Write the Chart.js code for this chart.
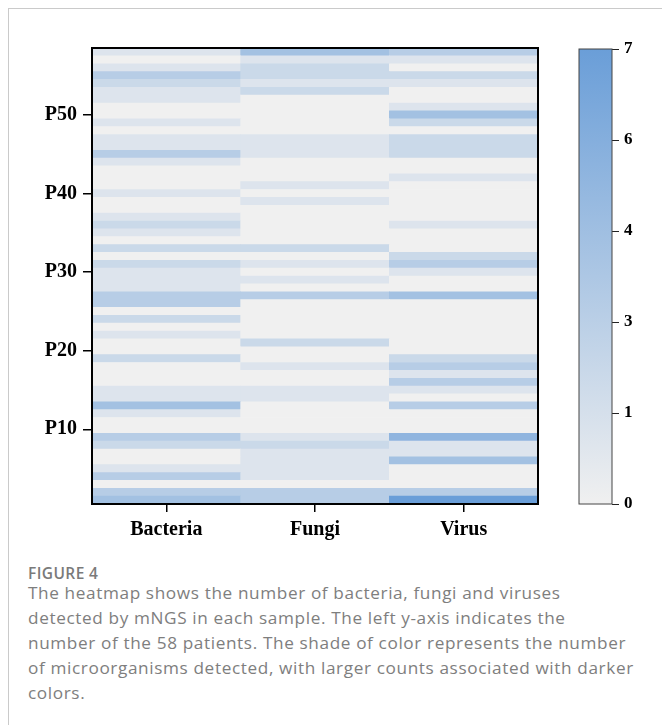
<!DOCTYPE html>
<html>
<head>
<meta charset="utf-8">
<script src="https://cdn.jsdelivr.net/npm/chart.js@4"></script>
<style>
  body { margin: 0; background: #fff; width: 662px; height: 725px; overflow: hidden; position: relative; }
  .card { position: absolute; left: 8px; top: 8px; width: 700px; height: 760px;
          border-left: 1px solid #cacaca; border-top: 1px solid #cacaca; }
  #heat { position: absolute; left: 0; top: 0; }
  #bar { position: absolute; left: 540px; top: 0; }
  .fig { position: absolute; left: 28px; top: 562px; font-family: "Open Sans", sans-serif;
         font-size: 15.5px; font-weight: 600; letter-spacing: 0.4px; color: #7a7a7a; }
  .caption { position: absolute; left: 28px; top: 580px; width: 640px; white-space: nowrap;
             font-family: "Open Sans", sans-serif; font-size: 17.2px; letter-spacing: 0.62px;
             line-height: 25px; color: #7e7e7e; }
</style>
</head>
<body>
<div class="card"></div>
<canvas id="heat" width="570" height="550"></canvas>
<canvas id="bar" width="122" height="550"></canvas>
<div class="fig">FIGURE 4</div>
<div class="caption">The heatmap shows the number of bacteria, fungi and viruses<br>detected by mNGS in each sample. The left y-axis indicates the<br>number of the 58 patients. The shade of color represents the number<br>of microorganisms detected, with larger counts associated with darker<br>colors.</div>
<script>
// Dati: conteggi per paziente P1..P58 (indice 0 = P1)
const categories = ['Bacteria', 'Fungi', 'Virus'];
const bacteria = [4, 3, 0, 3, 1, 0, 0, 2, 3, 0,
                  0, 1, 4, 1, 1, 0, 0, 0, 2, 0,
                  0, 1, 0, 2, 0, 3, 3, 1, 1, 1,
                  2, 0, 2, 0, 1, 2, 1, 0, 0, 1,
                  0, 0, 0, 1, 3, 1, 1, 0, 1, 0,
                  0, 1, 1, 2, 3, 1, 0, 1];
const fungi = [3, 3, 0, 1, 1, 1, 1, 2, 1, 0,
               0, 0, 0, 1, 1, 0, 0, 1, 0, 0,
               2, 0, 0, 0, 0, 0, 3, 0, 1, 0,
               1, 0, 2, 0, 0, 0, 0, 0, 1, 0,
               1, 0, 0, 0, 1, 1, 1, 0, 0, 0,
               0, 0, 2, 1, 2, 2, 1, 4];
const virus = [7, 3, 0, 0, 0, 4, 1, 1, 5, 0,
               0, 0, 3, 0, 1, 3, 1, 3, 2, 0,
               0, 0, 0, 0, 0, 0, 4, 0, 0, 1,
               3, 2, 0, 0, 0, 1, 0, 0, 0, 0,
               0, 1, 0, 0, 2, 2, 2, 0, 2, 4,
               1, 0, 0, 1, 2, 0, 1, 3];
const patientTicks = [10, 20, 30, 40, 50];
const colorbarTicks = [0, 1.4, 2.8, 4.2, 5.6, 7];
const colorbarLabels = ['0', '1', '3', '4', '6', '7'];

const maxCount = 7;
const lowRgb = [240, 240, 240];
const highRgb = [106, 158, 216];

function shade(v) {
    const t = v / maxCount;
    const c = lowRgb.map((lo, i) => Math.round(lo + (highRgb[i] - lo) * t));
    return `rgb(${c[0]}, ${c[1]}, ${c[2]})`;
}

const serifBold = (size) => ({ family: '"Liberation Serif", "Times New Roman", serif', size: size, weight: 'bold' });

// Cornice attorno all'area del grafico
const framePlugin = {
    id: 'frame',
    afterDatasetsDraw(chart, args, opts) {
        const a = chart.chartArea;
        const ctx = chart.ctx;
        ctx.save();
        ctx.strokeStyle = opts.color || '#000';
        ctx.lineWidth = opts.width || 2;
        ctx.strokeRect(a.left, a.top, a.right - a.left, a.bottom - a.top);
        ctx.restore();
    }
};

// Un dataset per paziente: barre flottanti [p-0.5, p+0.5] su ogni categoria
const datasets = bacteria.map((b, i) => {
    const p = i + 1;
    return {
        label: 'P' + p,
        data: categories.map(() => [p - 0.5, p + 0.5]),
        backgroundColor: [shade(bacteria[i]), shade(fungi[i]), shade(virus[i])],
        borderWidth: 0,
        grouped: false,
        categoryPercentage: 1,
        barPercentage: 1
    };
});

new Chart(document.getElementById('heat'), {
    type: 'bar',
    data: { labels: categories, datasets: datasets },
    plugins: [framePlugin],
    options: {
        responsive: false,
        animation: false,
        layout: { padding: { left: 0, top: 48, right: 32, bottom: 0 } },
        plugins: {
            legend: { display: false },
            tooltip: { enabled: false },
            frame: { color: '#000', width: 2 }
        },
        scales: {
            x: {
                grid: { offset: false, drawOnChartArea: false, tickLength: 8, color: '#000', lineWidth: 1.5 },
                border: { display: false },
                ticks: { color: '#000', font: serifBold(20), padding: 6 },
                afterFit: (scale) => { scale.height = 46; }
            },
            y: {
                min: 0.5,
                max: 58.5,
                grid: { drawOnChartArea: false, tickLength: 9, color: '#000', lineWidth: 1.5 },
                border: { display: false },
                afterBuildTicks: (scale) => { scale.ticks = patientTicks.map(v => ({ value: v })); },
                ticks: { color: '#000', font: serifBold(20), padding: 6, callback: (v) => 'P' + v },
                afterFit: (scale) => { scale.width = 92; }
            }
        }
    }
});

// Barra dei colori
new Chart(document.getElementById('bar'), {
    type: 'bar',
    data: {
        labels: [''],
        datasets: [{
            data: [[0, maxCount]],
            backgroundColor: (c) => {
                const area = c.chart.chartArea;
                if (!area) return shade(maxCount);
                const g = c.chart.ctx.createLinearGradient(0, area.bottom, 0, area.top);
                g.addColorStop(0, shade(0));
                g.addColorStop(1, shade(maxCount));
                return g;
            },
            borderWidth: 0,
            categoryPercentage: 1,
            barPercentage: 1
        }]
    },
    plugins: [framePlugin],
    options: {
        responsive: false,
        animation: false,
        layout: { padding: { left: 39, top: 49, right: 0, bottom: 46 } },
        plugins: {
            legend: { display: false },
            tooltip: { enabled: false },
            frame: { color: '#444', width: 1 }
        },
        scales: {
            x: { display: false },
            y: {
                position: 'right',
                min: 0,
                max: maxCount,
                grid: { drawOnChartArea: false, tickLength: 7, color: '#222', lineWidth: 1 },
                border: { display: false },
                afterBuildTicks: (scale) => { scale.ticks = colorbarTicks.map(v => ({ value: v })); },
                ticks: { color: '#000', font: serifBold(17), padding: 5,
                         callback: (v, i) => colorbarLabels[i] },
                afterFit: (scale) => { scale.width = 50; }
            }
        }
    }
});
</script>
</body>
</html>
